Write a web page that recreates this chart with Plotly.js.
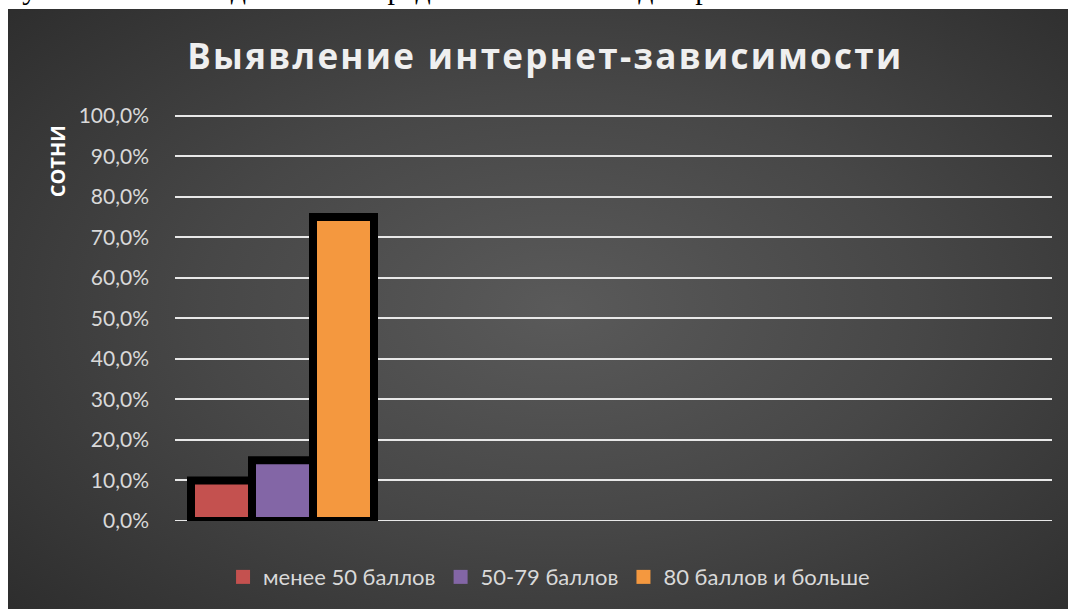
<!DOCTYPE html>
<html>
<head>
<meta charset="utf-8">
<script src="https://cdn.plot.ly/plotly-3.0.1.min.js"></script>
<style>
  html, body { margin: 0; padding: 0; background: #ffffff; width: 1068px; height: 609px; overflow: hidden; }
  #topline { position: absolute; left: 0; top: 0; width: 1068px; height: 9px; overflow: hidden; }
  #topline span { position: absolute; left: -19px; top: -28px; font-family: "Liberation Serif", serif; font-size: 30px; color: #000; white-space: nowrap; word-spacing: 30px; }
  #chart { position: absolute; left: 8px; top: 9px; width: 1060px; height: 600px;
    background: radial-gradient(ellipse 75% 80% at 52% 50%, #5a5a5a 0%, #474747 45%, #2a2a2a 100%); }
  #chart .gtitle { letter-spacing: 2.3px; }
</style>
</head>
<body>
<div id="topline"><span>Результаты исследования представлены в диаграмме.</span></div>
<div id="chart"></div>
<script>
const seriesNames = ["менее 50 баллов", "50-79 баллов", "80 баллов и больше"];
const seriesValues = [0.10, 0.15, 0.75];
const seriesColors = ["#c4514f", "#8366a6", "#f4983f"];
const category = [0];
const yTickValues = [0, 0.1, 0.2, 0.3, 0.4, 0.5, 0.6, 0.7, 0.8, 0.9, 1.0];

const barTraces = seriesNames.map((name, i) => ({
  type: "bar",
  name: name,
  legendgroup: name,
  showlegend: false,
  x: category,
  y: [seriesValues[i]],
  marker: { color: seriesColors[i], line: { color: "#000000", width: 8 } },
  hoverinfo: "name+y"
}));

// legend entries: plain squares without the black bar outline
const legendTraces = seriesNames.map((name, i) => ({
  type: "scatter",
  mode: "markers",
  name: name,
  legendgroup: name,
  x: [null],
  y: [null],
  marker: { symbol: "square", size: 14, color: seriesColors[i], line: { width: 0 } },
  hoverinfo: "skip"
}));

const layout = {
  width: 1060,
  height: 600,
  paper_bgcolor: "rgba(0,0,0,0)",
  plot_bgcolor: "rgba(0,0,0,0)",
  separators: ", ",
  margin: { l: 167, r: 16, t: 105, b: 87 },
  title: {
    text: "<b>Выявление интернет-зависимости</b>",
    font: { family: "Open Sans, sans-serif", size: 35, color: "#efefef" },
    x: 0.507, xanchor: "center",
    y: 0.92, yanchor: "middle"
  },
  barmode: "group",
  bargap: 0.085,
  bargroupgap: 0,
  xaxis: {
    range: [-0.5375, 3.8475],
    showticklabels: false,
    showgrid: false,
    zeroline: false,
    fixedrange: true
  },
  yaxis: {
    range: [0, 1.004],
    tickvals: yTickValues,
    tickformat: ".1%",
    showgrid: true,
    gridcolor: "#e8e8e8",
    gridwidth: 2,
    zeroline: false,
    showline: false,
    ticks: "",
    ticklen: 0,
    ticklabelstandoff: 25,
    tickfont: { family: "Lato, sans-serif", size: 21, color: "#d9d9d9" },
    automargin: false
  },
  shapes: [{
    type: "line", xref: "paper", yref: "y", x0: 0, x1: 1, y0: 0, y1: 0,
    line: { color: "#e8e8e8", width: 2 }, layer: "below"
  }],
  legend: {
    orientation: "h",
    x: 0.4265, xanchor: "center",
    y: -0.135, yanchor: "middle",
    font: { family: "Lato, sans-serif", size: 22, color: "#d9d9d9" },
    itemwidth: 30,
    bgcolor: "rgba(0,0,0,0)"
  },
  annotations: [{
    text: "<b>СОТНИ</b>",
    textangle: -90,
    xref: "paper", yref: "paper",
    x: -0.133, y: 0.978,
    xanchor: "center", yanchor: "top",
    showarrow: false,
    font: { family: "Open Sans, sans-serif", size: 20, color: "#ffffff" }
  }],
  showlegend: true
};

Plotly.newPlot("chart", barTraces.concat(legendTraces), layout, { displayModeBar: false, staticPlot: true });
</script>
</body>
</html>
